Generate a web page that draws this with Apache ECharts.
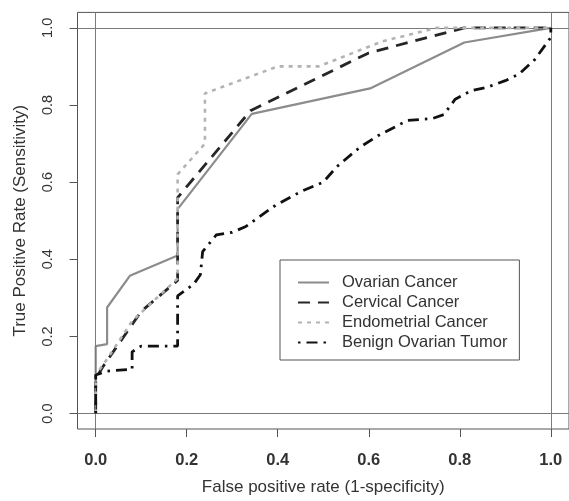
<!DOCTYPE html>
<html>
<head>
<meta charset="utf-8">
<script src="https://cdn.jsdelivr.net/npm/echarts@6/dist/echarts.min.js"></script>
<style>
html,body{margin:0;padding:0;background:#fff;}
#chart{width:569px;height:501px;}
</style>
</head>
<body>
<div id="chart"></div>
<script>
// ---- data ----
const seriesNames = ["Ovarian Cancer", "Cervical Cancer", "Endometrial Cancer", "Benign Ovarian Tumor"];
const xTicks = [0, 0.2, 0.4, 0.6, 0.8, 1.0];
const xTickLabels = ["0.0", "0.2", "0.4", "0.6", "0.8", "1.0"];
const yTicks = [0, 0.2, 0.4, 0.6, 0.8, 1.0];
const yTickLabels = ["0.0", "0.2", "0.4", "0.6", "0.8", "1.0"];
const xTitle = "False positive rate (1-specificity)";
const yTitle = "True Positive Rate (Sensitivity)";
const refLinesX = [0, 1];
const refLinesY = [0, 1];

const ovarianCancer = [[0,0],[0,0.175],[0.025,0.18],[0.025,0.275],[0.075,0.357],[0.18,0.41],[0.18,0.53],[0.343,0.777],[0.603,0.843],[0.81,0.962],[1,1]];
const cervicalCancer = [[0,0],[0,0.09],[0.015,0.12],[0.1,0.265],[0.18,0.345],[0.18,0.56],[0.34,0.785],[0.6,0.935],[0.81,1.0],[1,1]];
const endometrialCancer = [[0,0],[0,0.1],[0.03,0.15],[0.08,0.24],[0.18,0.35],[0.18,0.62],[0.24,0.7],[0.24,0.83],[0.4,0.9],[0.49,0.9],[0.63,0.965],[0.75,1.0],[1,1]];
const benignOvarianTumor = [[0,0],[0,0.1],[0.025,0.11],[0.08,0.115],[0.08,0.16],[0.1,0.175],[0.18,0.175],[0.18,0.305],[0.215,0.335],[0.23,0.36],[0.235,0.42],[0.265,0.463],[0.3,0.47],[0.33,0.485],[0.395,0.54],[0.45,0.575],[0.5,0.6],[0.53,0.64],[0.58,0.69],[0.62,0.72],[0.685,0.76],[0.74,0.765],[0.765,0.775],[0.79,0.815],[0.825,0.837],[0.86,0.846],[0.9,0.863],[0.93,0.88],[0.965,0.918],[1,0.975],[1,1]];

// ---- chart ----
const chart = echarts.init(document.getElementById('chart'), null, {renderer: 'canvas'});
const FONT = "'Liberation Sans', Arial, sans-serif";
function lbl(ticks, labels) {
  return function (v) {
    for (let i = 0; i < ticks.length; i++) if (Math.abs(ticks[i] - v) < 1e-9) return labels[i];
    return '';
  };
}
const styles = [
  {color: '#8c8c8c', width: 2.2, type: 'solid'},
  {color: '#262626', width: 2.8, type: [12, 8]},
  {color: '#b3b3b3', width: 2.6, type: [4, 5]},
  {color: '#111111', width: 2.8, type: [2.5, 6, 11, 6]}
];
const datasets = [ovarianCancer, cervicalCancer, endometrialCancer, benignOvarianTumor];
const series = seriesNames.map((name, i) => ({
  name: name,
  type: 'line',
  data: datasets[i],
  symbol: 'none',
  showSymbol: false,
  color: styles[i].color,
  lineStyle: {color: styles[i].color, width: styles[i].width, type: styles[i].type},
  z: 3 + i
}));
series.unshift({
  name: '__ref',
  type: 'line',
  data: [],
  silent: true,
  markLine: {
    silent: true,
    symbol: ['none', 'none'],
    label: {show: false},
    lineStyle: {color: '#7a7a7a', width: 1, type: 'solid'},
    data: refLinesX.map(v => ({xAxis: v})).concat(refLinesY.map(v => ({yAxis: v})))
  },
  z: 1
});

chart.setOption({
  animation: false,
  backgroundColor: '#ffffff',
  textStyle: {fontFamily: FONT},
  grid: {
    show: true, left: 77.5, top: 12.4, width: 500, height: 422.2,
    borderColor: '#555', borderWidth: 1, backgroundColor: 'transparent'
  },
  legend: {
    data: seriesNames,
    orient: 'vertical',
    left: 280, top: 260,
    padding: [14, 12, 9, 17],
    itemWidth: 31, itemHeight: 14, itemGap: 3,
    borderColor: '#555', borderWidth: 1, borderRadius: 0,
    backgroundColor: '#fff',
    itemStyle: {opacity: 0},
    textStyle: {fontFamily: FONT, fontSize: 16.5, color: '#333', padding: [0, 0, 0, 8]},
    selectedMode: false
  },
  xAxis: {
    type: 'value', min: -0.04, max: 1.04,
    name: xTitle, nameLocation: 'middle', nameGap: 50,
    nameTextStyle: {fontFamily: FONT, fontSize: 17, color: '#333'},
    axisLine: {show: false, onZero: false},
    splitLine: {show: false},
    axisTick: {show: true, customValues: xTicks, length: 8, lineStyle: {color: '#555', width: 1}},
    axisLabel: {customValues: xTicks, formatter: lbl(xTicks, xTickLabels), fontFamily: FONT, fontSize: 16.5, color: '#333', margin: 23, fontWeight: 'bold'}
  },
  yAxis: {
    type: 'value', min: -0.04, max: 1.04,
    name: yTitle, nameLocation: 'middle', nameGap: 49, nameRotate: 90,
    nameTextStyle: {fontFamily: FONT, fontSize: 17, color: '#333'},
    axisLine: {show: false, onZero: false},
    splitLine: {show: false},
    axisTick: {show: true, customValues: yTicks, length: 8, lineStyle: {color: '#555', width: 1}},
    axisLabel: {customValues: yTicks, formatter: lbl(yTicks, yTickLabels), rotate: 90, fontFamily: FONT, fontSize: 14.5, color: '#333', margin: 22}
  },
  series: series
});
</script>
</body>
</html>
